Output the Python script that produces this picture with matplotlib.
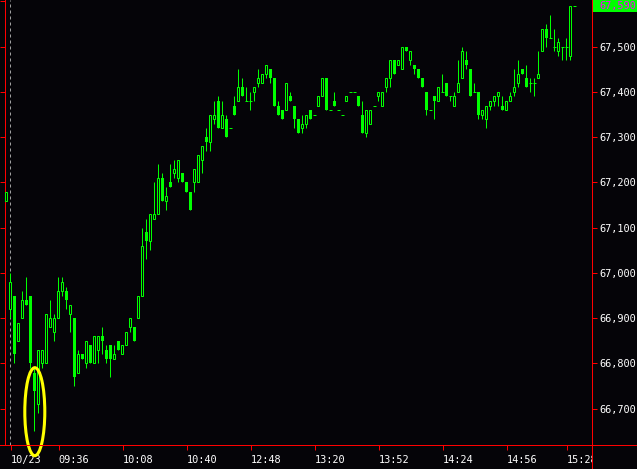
import matplotlib
matplotlib.use("Agg")
import matplotlib.pyplot as plt
from matplotlib.patches import Rectangle, Ellipse
from matplotlib.lines import Line2D
from matplotlib.transforms import Bbox, TransformedBbox

# ---------------- data (candles, previous day's last bar first) ----------------
opens = [67160,
 66920, 66950, 66850, 66900, 66940, 66950, 66780, 66710, 66800, 66800,
 66880, 66870, 66900, 66960, 66960, 66910, 66900, 66780, 66820, 66800,
 66840, 66800, 66830, 66860, 66830, 66840, 66810, 66850, 66820, 66840,
 66880, 66880, 66900, 66950, 67090, 67070, 67120, 67130, 67210, 67160,
 67200, 67220, 67210, 67220, 67200, 67180, 67200, 67200, 67250, 67300,
 67290, 67340, 67380, 67320, 67340, 67320, 67370, 67380, 67410, 67380,
 67380, 67400, 67420, 67420, 67440, 67450, 67430, 67370, 67360, 67360,
 67390, 67370, 67340, 67320, 67330, 67360, 67350, 67370, 67390, 67430,
 67360, 67380, 67360, 67350, 67380, 67400, 67400, 67390, 67350, 67310,
 67330, 67370, 67390, 67370, 67410, 67430, 67470, 67460, 67450, 67500,
 67470, 67460, 67450, 67430, 67400, 67360, 67390, 67380, 67400, 67420,
 67390, 67370, 67400, 67430, 67470, 67450, 67400, 67400, 67350, 67340,
 67370, 67380, 67390, 67370, 67360, 67380, 67400, 67420, 67450, 67430,
 67420, 67420, 67430, 67490, 67540, 67520, 67500, 67490, 67500, 67500,
 67480, 67590]
highs = [67180,
 67000, 66950, 66890, 66960, 66990, 66950, 66790, 66830, 66830, 66910,
 66940, 66910, 66990, 66990, 66970, 66930, 66900, 66830, 66820, 66850,
 66840, 66860, 66860, 66880, 66840, 66840, 66840, 66850, 66840, 66870,
 66900, 66880, 66950, 67100, 67120, 67130, 67200, 67240, 67220, 67190,
 67240, 67250, 67250, 67220, 67200, 67180, 67230, 67260, 67280, 67320,
 67350, 67380, 67390, 67380, 67350, 67320, 67390, 67450, 67430, 67410,
 67400, 67410, 67450, 67440, 67460, 67450, 67430, 67380, 67360, 67420,
 67400, 67370, 67340, 67350, 67350, 67360, 67350, 67390, 67430, 67430,
 67360, 67400, 67360, 67350, 67390, 67400, 67400, 67390, 67380, 67360,
 67360, 67370, 67400, 67400, 67430, 67470, 67470, 67470, 67500, 67500,
 67490, 67460, 67450, 67430, 67400, 67360, 67390, 67410, 67440, 67420,
 67390, 67400, 67470, 67500, 67490, 67450, 67420, 67400, 67360, 67370,
 67380, 67390, 67400, 67390, 67380, 67400, 67450, 67470, 67450, 67460,
 67430, 67430, 67490, 67540, 67550, 67570, 67540, 67520, 67500, 67520,
 67590, 67590]
lows = [67160,
 66900, 66800, 66850, 66900, 66930, 66790, 66650, 66690, 66790, 66800,
 66880, 66850, 66900, 66950, 66920, 66870, 66750, 66780, 66810, 66790,
 66800, 66800, 66800, 66820, 66800, 66770, 66810, 66830, 66820, 66840,
 66870, 66850, 66900, 66950, 67030, 67050, 67120, 67130, 67160, 67140,
 67190, 67210, 67200, 67200, 67180, 67140, 67180, 67200, 67220, 67270,
 67270, 67330, 67320, 67320, 67300, 67320, 67350, 67380, 67390, 67380,
 67360, 67380, 67410, 67420, 67430, 67420, 67370, 67350, 67340, 67360,
 67380, 67320, 67310, 67310, 67320, 67340, 67350, 67370, 67390, 67360,
 67360, 67370, 67360, 67350, 67380, 67400, 67400, 67370, 67310, 67300,
 67330, 67370, 67380, 67370, 67400, 67410, 67440, 67460, 67450, 67490,
 67460, 67440, 67430, 67410, 67350, 67360, 67340, 67380, 67400, 67390,
 67380, 67370, 67400, 67430, 67450, 67390, 67400, 67340, 67340, 67320,
 67360, 67370, 67370, 67360, 67360, 67380, 67390, 67410, 67440, 67410,
 67400, 67390, 67430, 67490, 67500, 67520, 67490, 67480, 67470, 67470,
 67470, 67590]
closes = [67180,
 66980, 66820, 66890, 66940, 66930, 66800, 66740, 66830, 66830, 66910,
 66900, 66900, 66960, 66980, 66940, 66930, 66770, 66820, 66810, 66850,
 66800, 66860, 66860, 66850, 66810, 66810, 66820, 66830, 66840, 66870,
 66900, 66850, 66950, 67060, 67070, 67130, 67130, 67210, 67160, 67170,
 67190, 67230, 67250, 67200, 67180, 67140, 67230, 67260, 67280, 67290,
 67350, 67350, 67320, 67350, 67300, 67320, 67350, 67410, 67390, 67380,
 67380, 67410, 67430, 67440, 67460, 67430, 67370, 67350, 67340, 67420,
 67380, 67340, 67310, 67330, 67350, 67340, 67350, 67390, 67430, 67360,
 67360, 67370, 67360, 67350, 67390, 67400, 67400, 67370, 67310, 67360,
 67360, 67370, 67400, 67400, 67430, 67470, 67440, 67470, 67500, 67490,
 67490, 67450, 67430, 67410, 67360, 67360, 67380, 67410, 67400, 67390,
 67390, 67390, 67420, 67490, 67460, 67390, 67400, 67350, 67360, 67370,
 67380, 67390, 67400, 67360, 67380, 67390, 67410, 67440, 67440, 67410,
 67420, 67420, 67440, 67540, 67520, 67520, 67500, 67510, 67500, 67500,
 67590, 67590]
first_bar = -1  # index of the first element (previous session's last bar)

tick_bars = [0, 12, 28, 44, 60, 76, 92, 108, 124, 139]
tick_labels = ["10/23", "09:36", "10:08", "10:40", "12:48", "13:20",
               "13:52", "14:24", "14:56", "15:28"]
price_ticks = [66700, 66800, 66900, 67000, 67100, 67200, 67300, 67400, 67500, 67600]
last_price = 67590

# ---------------- style ----------------
BG = "#050408"
GREEN = "#00ff00"
RED = "#ff0000"
PX = 0.72  # one pixel in points at 100 dpi
FS = 7.4
plt.rcParams['font.family'] = ['DejaVu Sans Mono']

W, H = 637, 469
fig = plt.figure(figsize=(W / 100, H / 100), dpi=100, facecolor=BG)
left_px, right_px, bottom_px = 5.3, 592.3, 445
ax = fig.add_axes([left_px / W, (H - bottom_px) / H, (right_px - left_px) / W, bottom_px / H])
ax.set_facecolor(BG)

ax.set_xlim(-1.25, 145.5)
ax.set_ylim(66619.8, 67603.2)

# day separator
ax.axvline(0, color="#a0a0a0", lw=PX, linestyle=(0, (3, 3)), zorder=1)

# candles
for k in range(len(opens)):
    x = first_bar + k
    o, h, l, c = opens[k], highs[k], lows[k], closes[k]
    ax.vlines(x, l, h, color=GREEN, lw=PX, zorder=2)
    if c > o:
        ax.add_patch(Rectangle((x - 0.25, o), 0.5, c - o, facecolor=BG,
                               edgecolor=GREEN, lw=PX, zorder=3))
    elif c < o:
        ax.add_patch(Rectangle((x - 0.375, c), 0.75, o - c, facecolor=GREEN,
                               edgecolor="none", zorder=3))
    else:
        ax.hlines(o, x - 0.375, x + 0.375, color=GREEN, lw=PX, zorder=3)

# spines
ax.spines['top'].set_visible(False)
for s in ['left', 'right', 'bottom']:
    ax.spines[s].set_color(RED)
    ax.spines[s].set_linewidth(PX)

# y axis ticks (ticks both sides, labels on the right)
ax.set_yticks(price_ticks)
ax.set_yticklabels(["{:,}".format(p) if p != 67600 else "" for p in price_ticks])
ax.tick_params(axis='y', which='both', left=True, right=True, labelleft=False,
               labelright=True, direction='out', length=3.6, width=PX,
               color=RED, labelcolor='white', labelsize=FS, pad=1.8)

# x axis ticks
ax.set_xticks([b + 0.1 for b in tick_bars])
ax.set_xticklabels(tick_labels)
ax.tick_params(axis='x', direction='out', length=3.6, width=PX, color=RED,
               labelcolor='white', labelsize=FS, pad=3.5)
clip = TransformedBbox(Bbox([[0, 0], [right_px / W, 1]]), fig.transFigure)
for lbl in ax.get_xticklabels():
    lbl.set_ha('left')
    lbl.set_clip_box(clip)
    lbl.set_clip_on(True)

# extended frame lines
fig.add_artist(Line2D([0, 1], [(H - bottom_px) / H] * 2, transform=fig.transFigure,
                      color=RED, lw=PX))
fig.add_artist(Line2D([right_px / W] * 2, [0, 1], transform=fig.transFigure,
                      color=RED, lw=PX))

# yellow highlight ellipse around the early low
fig.add_artist(Ellipse((34.8 / W, (H - 411.7) / H), 20 / W, 88 / H,
                       transform=fig.transFigure, facecolor='none',
                       edgecolor='#ffff00', lw=2.2))

# last-price marker
fig.add_artist(Rectangle((593 / W, (H - 12.5) / H), 44 / W, 12.5 / H,
                         transform=fig.transFigure, facecolor=GREEN, edgecolor='none'))
fig.text(599.5 / W, (H - 6.5) / H, "{:,}".format(last_price), color="#ff00ff",
         fontsize=FS, va='center', ha='left')

fig.savefig("out.png", dpi=100, facecolor=BG)
